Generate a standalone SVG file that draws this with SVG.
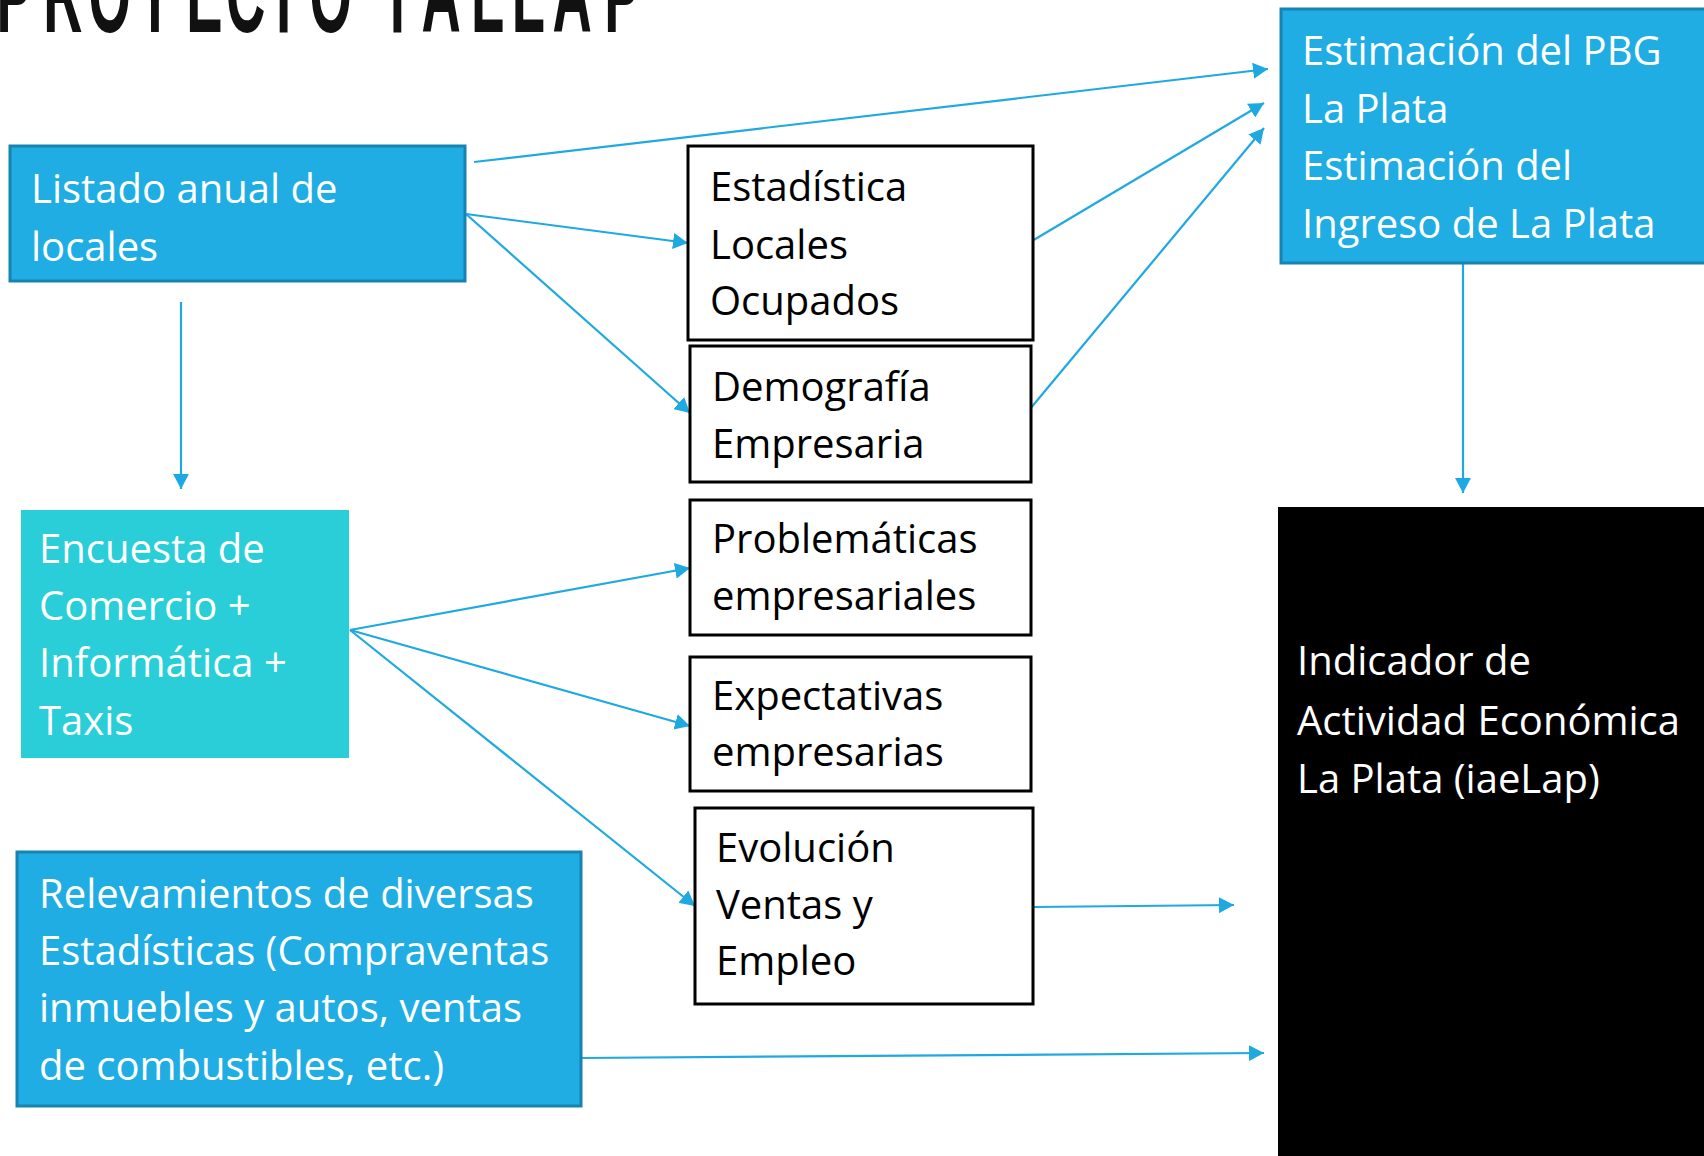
<svg xmlns="http://www.w3.org/2000/svg" width="1704" height="1156" viewBox="0 0 1704 1156">
<style>
.t{font-family:"Open Sans","Noto Sans",sans-serif;font-size:40px}
.w{fill:#ffffff}
.k{fill:#000000}
.blue{fill:#1FADE3;stroke:#1683B1;stroke-width:3}
.cyan{fill:#2ACED8}
.wb{fill:#ffffff;stroke:#000000;stroke-width:3}
.c{stroke:#1FA9E1;stroke-width:2.2;fill:none;marker-end:url(#ah)}
.title{font-family:"Liberation Sans",Arial,sans-serif;font-weight:bold;font-size:64px;fill:#111111}
</style>
<defs>
<marker id="ah" markerUnits="userSpaceOnUse" markerWidth="16" markerHeight="16" refX="15" refY="8" orient="auto">
<path d="M0,0 L15,8 L0,16 z" fill="#1FA9E1"/>
</marker>
</defs>
<rect width="1704" height="1156" fill="#ffffff"/>
<g id="title" transform="scale(0.85,1.75)">
<text class="title" x="-4 51 104 161 219 266 314 364 448 496 554 602 650 711" y="18.3">PROYECTOTALLAP</text>
</g>

<g id="connectors">
<line class="c" x1="474" y1="162" x2="1268" y2="69"/>
<line class="c" x1="466" y1="214" x2="688" y2="243"/>
<line class="c" x1="466" y1="214" x2="690" y2="413"/>
<line class="c" x1="181" y1="302" x2="181" y2="489"/>
<line class="c" x1="1032" y1="241" x2="1264" y2="103"/>
<line class="c" x1="1030" y1="409" x2="1264" y2="128"/>
<line class="c" x1="1463" y1="263" x2="1463" y2="493"/>
<line class="c" x1="350" y1="630" x2="690" y2="568"/>
<line class="c" x1="350" y1="630" x2="690" y2="726"/>
<line class="c" x1="350" y1="630" x2="695" y2="906"/>
<line class="c" x1="1033" y1="907" x2="1234" y2="905"/>
<line class="c" x1="581" y1="1058" x2="1264" y2="1053"/>
</g>

<g id="listado">
<rect class="blue" x="10" y="146" width="455" height="135"/>
<text class="t w" x="31" y="203">Listado anual de</text>
<text class="t w" x="31" y="261">locales</text>
</g>

<g id="estimacion">
<rect class="blue" x="1281" y="9" width="430" height="254"/>
<text class="t w" x="1302" y="65">Estimación del PBG</text>
<text class="t w" x="1302" y="123">La Plata</text>
<text class="t w" x="1302" y="180">Estimación del</text>
<text class="t w" x="1302" y="238">Ingreso de La Plata</text>
</g>

<g id="indicador">
<rect x="1278" y="507" width="430" height="652" fill="#000000"/>
<text class="t w" x="1297" y="675">Indicador de</text>
<text class="t w" x="1297" y="735">Actividad Económica</text>
<text class="t w" x="1297" y="793">La Plata (iaeLap)</text>
</g>

<g id="estadistica">
<rect class="wb" x="688" y="146" width="345" height="194"/>
<text class="t k" x="710" y="201">Estadística</text>
<text class="t k" x="710" y="259">Locales</text>
<text class="t k" x="710" y="315">Ocupados</text>
</g>

<g id="demografia">
<rect class="wb" x="690" y="346" width="341" height="136"/>
<text class="t k" x="712" y="401">Demografía</text>
<text class="t k" x="712" y="458">Empresaria</text>
</g>

<g id="problematicas">
<rect class="wb" x="690" y="500" width="341" height="135"/>
<text class="t k" x="712" y="553">Problemáticas</text>
<text class="t k" x="712" y="610">empresariales</text>
</g>

<g id="expectativas">
<rect class="wb" x="690" y="657" width="341" height="134"/>
<text class="t k" x="712" y="710">Expectativas</text>
<text class="t k" x="712" y="766">empresarias</text>
</g>

<g id="evolucion">
<rect class="wb" x="695" y="808" width="338" height="196"/>
<text class="t k" x="716" y="862">Evolución</text>
<text class="t k" x="716" y="919">Ventas y</text>
<text class="t k" x="716" y="975">Empleo</text>
</g>

<g id="encuesta">
<rect class="cyan" x="21" y="510" width="328" height="248"/>
<text class="t w" x="39" y="563">Encuesta de</text>
<text class="t w" x="39" y="620">Comercio +</text>
<text class="t w" x="39" y="677">Informática +</text>
<text class="t w" x="39" y="735">Taxis</text>
</g>

<g id="relevamientos">
<rect class="blue" x="17" y="852" width="564" height="254"/>
<text class="t w" x="39" y="908">Relevamientos de diversas</text>
<text class="t w" x="39" y="965">Estadísticas (Compraventas</text>
<text class="t w" x="39" y="1022">inmuebles y autos, ventas</text>
<text class="t w" x="39" y="1080">de combustibles, etc.)</text>
</g>
</svg>
